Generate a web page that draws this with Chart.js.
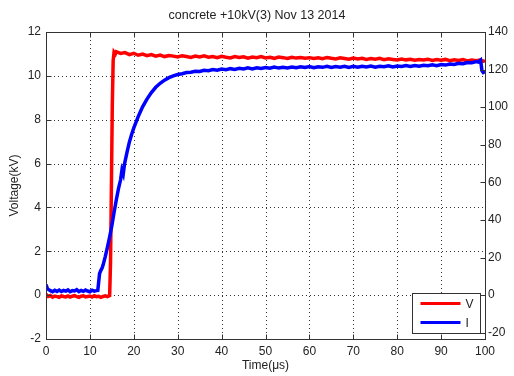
<!DOCTYPE html>
<html>
<head>
<meta charset="utf-8">
<script src="https://cdn.jsdelivr.net/npm/chart.js@4"></script>
<style>
  html, body { margin: 0; padding: 0; background: #fff; }
  canvas { display: block; }
</style>
</head>
<body>
<canvas id="chart1" width="514" height="376"></canvas>
<script>
// tick labels
var timeTicks = [0, 10, 20, 30, 40, 50, 60, 70, 80, 90, 100];
var voltTicks = [-2, 0, 2, 4, 6, 8, 10, 12];
var currTicks = [-20, 0, 20, 40, 60, 80, 100, 120, 140];

// V (kV) - red
var timeV = [0, 0.5, 1, 1.5, 2, 2.5, 3, 3.5, 4, 4.5, 5, 5.5, 6, 6.5, 7, 7.5, 8, 8.5, 9, 9.5,
    10, 10.5, 11, 11.5, 12, 12.5, 13, 13.5, 14, 14.5, 14.7, 14.9, 15.1, 15.3, 15.5, 15.8,
    16, 17, 18, 19, 20, 21, 22, 23, 24, 25, 26, 27, 28, 29, 30, 31, 32, 33, 34, 35, 36, 37, 38, 39,
    40, 41, 42, 43, 44, 45, 46, 47, 48, 49, 50, 51, 52, 53, 54, 55, 56, 57, 58, 59,
    60, 61, 62, 63, 64, 65, 66, 67, 68, 69, 70, 71, 72, 73, 74, 75, 76, 77, 78, 79,
    80, 81, 82, 83, 84, 85, 86, 87, 88, 89, 90, 91, 92, 93, 94, 95, 96, 97, 98, 99, 99.5, 100];
var volt = [0.04, -0.06, -0.02, -0.09, -0.04, -0.07, -0.1, -0.03, -0.06, -0.08, -0.04, -0.09, -0.05, -0.02, -0.07, -0.1, -0.05, -0.03, -0.08, -0.06,
    -0.04, -0.09, -0.03, -0.07, -0.05, -0.1, -0.06, -0.03, -0.07, -0.02, 1.5, 5.0, 8.6, 10.7, 11.08, 11.0,
    11.1, 11.02, 11.06, 10.97, 11.03, 10.94, 10.99, 10.92, 10.97, 10.9, 10.95, 10.88, 10.93, 10.9, 10.86, 10.92, 10.88, 10.84, 10.9, 10.86, 10.91, 10.85, 10.88, 10.83,
    10.89, 10.85, 10.82, 10.88, 10.84, 10.87, 10.81, 10.86, 10.83, 10.88, 10.82, 10.85, 10.8, 10.86, 10.83, 10.79, 10.85, 10.81, 10.84, 10.8,
    10.83, 10.79, 10.82, 10.78, 10.84, 10.8, 10.77, 10.82, 10.79, 10.76, 10.81, 10.77, 10.8, 10.75, 10.79, 10.76, 10.8, 10.74, 10.78, 10.75,
    10.72, 10.77, 10.73, 10.76, 10.71, 10.75, 10.72, 10.76, 10.7, 10.74, 10.71, 10.75, 10.69, 10.73, 10.7, 10.74, 10.68, 10.72, 10.69, 10.73, 10.66, 10.7];

// I - blue, right axis
var timeI = [0, 0.3, 0.6, 1, 1.5, 2, 2.5, 3, 3.5, 4, 4.5, 5, 5.5, 6, 6.5, 7, 7.5, 8, 8.5, 9, 9.5, 10, 10.5, 11, 11.5,
    11.8, 12, 12.2, 12.5, 12.8, 13, 13.5, 14, 14.5, 15, 15.5, 16, 16.5, 17, 17.3, 17.6, 17.9, 18.5, 19, 19.5,
    20, 21, 22, 23, 24, 25, 26, 27, 28, 29, 30, 31, 32, 33, 34, 35, 36, 37, 38, 39,
    40, 41, 42, 43, 44, 45, 46, 47, 48, 49, 50, 51, 52, 53, 54, 55, 56, 57, 58, 59,
    60, 61, 62, 63, 64, 65, 66, 67, 68, 69, 70, 71, 72, 73, 74, 75, 76, 77, 78, 79,
    80, 81, 82, 83, 84, 85, 86, 87, 88, 89, 90, 91, 92, 93, 94, 95, 96, 97, 98, 98.5, 99, 99.3, 99.6, 100];
var curr = [5.6, 3.6, 2.9, 2.4, 1.8, 2.6, 2.0, 2.7, 1.9, 2.5, 2.1, 2.8, 1.8, 2.4, 2.2, 2.9, 1.9, 2.5, 2.0, 2.7, 2.2, 1.8, 2.6, 2.1, 2.4,
    2.5, 7.0, 11.5, 13.2, 14.5, 16.0, 20.5, 25.5, 31.0, 37.0, 44.0, 50.5, 56.5, 61.5, 66.5, 64.5, 70.0, 76.5, 81.5, 85.5,
    89.0, 95.0, 100.2, 104.3, 107.8, 110.6, 112.7, 114.4, 115.7, 116.7, 117.4, 117.8, 118.4, 118.6, 119.1, 119.0, 119.6, 119.4, 120.0, 119.7,
    120.3, 119.9, 120.5, 120.1, 120.7, 120.3, 120.9, 120.4, 121.0, 120.6, 121.1, 120.7, 121.3, 120.8, 121.2, 120.9, 121.4, 121.0, 121.5, 121.1,
    121.6, 121.0, 121.5, 121.2, 121.7, 121.1, 121.6, 121.3, 121.8, 121.2, 121.7, 121.3, 121.8, 121.4, 121.9, 121.3, 121.8, 121.5, 122.0, 121.4,
    121.9, 121.6, 122.1, 121.7, 122.2, 121.8, 122.3, 122.0, 122.5, 122.1, 122.7, 122.4, 123.0, 122.7, 123.3, 123.1, 123.8, 123.6, 124.3, 124.0, 125.0, 119.5, 118.5, 119.0];

function toPoints(xs, ys) {
    var pts = [];
    for (var i = 0; i < xs.length; i++) {
        pts.push({ x: xs[i], y: ys[i] });
    }
    return pts;
}

function setTicks(list) {
    return function(scale) {
        scale.ticks = list.map(function(v) { return { value: v }; });
    };
}

var fontFamily = "'Liberation Sans', Arial, sans-serif";
var inkColor = '#222';

// grid, box, inward tick marks and the legend box
var framePlugin = {
    id: 'frame',
    beforeDatasetsDraw: function(chart) {
        var ctx = chart.ctx, a = chart.chartArea;
        var xs = chart.scales.x, yl = chart.scales.y;
        ctx.save();
        ctx.strokeStyle = '#333';
        ctx.lineWidth = 1;
        ctx.setLineDash([1, 3]);
        ctx.beginPath();
        timeTicks.forEach(function(t) {
            var px = Math.round(xs.getPixelForValue(t)) + 0.5;
            ctx.moveTo(px, a.top);
            ctx.lineTo(px, a.bottom);
        });
        voltTicks.forEach(function(v) {
            var py = Math.round(yl.getPixelForValue(v)) + 0.5;
            ctx.moveTo(a.left, py);
            ctx.lineTo(a.right, py);
        });
        ctx.stroke();
        ctx.restore();
    },
    afterDraw: function(chart) {
        var ctx = chart.ctx, a = chart.chartArea;
        var xs = chart.scales.x, yl = chart.scales.y, yr = chart.scales.y2;
        var L = Math.round(a.left) + 0.5, R = Math.round(a.right) + 0.5;
        var T = Math.round(a.top) + 0.5, B = Math.round(a.bottom) + 0.5;
        ctx.save();
        ctx.strokeStyle = '#333';
        ctx.lineWidth = 1;
        ctx.beginPath();
        timeTicks.forEach(function(t) {
            var px = Math.round(xs.getPixelForValue(t)) + 0.5;
            ctx.moveTo(px, B); ctx.lineTo(px, B - 5);
            ctx.moveTo(px, T); ctx.lineTo(px, T + 5);
        });
        voltTicks.forEach(function(v) {
            var py = Math.round(yl.getPixelForValue(v)) + 0.5;
            ctx.moveTo(L, py); ctx.lineTo(L + 5, py);
        });
        currTicks.forEach(function(v) {
            var py = Math.round(yr.getPixelForValue(v)) + 0.5;
            ctx.moveTo(R, py); ctx.lineTo(R - 5, py);
        });
        ctx.stroke();
        ctx.strokeRect(L, T, R - L, B - T);

        // legend
        var bw = 68, bh = 40;
        var bx = Math.round(a.right) - 5 - bw + 0.5;
        var by = Math.round(a.bottom) - 6 - bh + 0.5;
        ctx.fillStyle = '#fff';
        ctx.fillRect(bx, by, bw, bh);
        ctx.strokeRect(bx, by, bw, bh);
        ctx.font = '12px ' + fontFamily;
        ctx.textBaseline = 'middle';
        ctx.textAlign = 'left';
        chart.data.datasets.forEach(function(ds, i) {
            var ly = by + 10 + i * 19;
            ctx.strokeStyle = ds.borderColor;
            ctx.lineWidth = 3;
            ctx.beginPath();
            ctx.moveTo(bx + 8, ly);
            ctx.lineTo(bx + 48, ly);
            ctx.stroke();
            ctx.fillStyle = inkColor;
            ctx.fillText(ds.label, bx + 53, ly + 1);
        });
        ctx.restore();
    }
};

window.onload = function() {
    var ctx1 = document.getElementById('chart1').getContext('2d');
    var chart1 = new Chart(ctx1, {
        type: 'line',
        data: {
            datasets: [{
                label: 'V',
                data: toPoints(timeV, volt),
                borderColor: '#ff0000',
                borderWidth: 3.5,
                pointRadius: 0,
                tension: 0,
                yAxisID: 'y',
                order: 1
            }, {
                label: 'I',
                data: toPoints(timeI, curr),
                borderColor: '#0000ff',
                borderWidth: 3.5,
                pointRadius: 0,
                tension: 0,
                yAxisID: 'y2',
                order: 0
            }]
        },
        options: {
            responsive: false,
            animation: false,
            devicePixelRatio: 1,
            layout: { padding: 0 },
            plugins: {
                legend: { display: false },
                tooltip: { enabled: false },
                title: {
                    display: true,
                    text: 'concrete +10kV(3) Nov 13 2014',
                    color: inkColor,
                    font: { family: fontFamily, size: 12.5, weight: 'normal' },
                    padding: { top: 8, bottom: 9 }
                }
            },
            scales: {
                x: {
                    type: 'linear',
                    min: 0, max: 100,
                    afterBuildTicks: setTicks(timeTicks),
                    afterFit: function(s) { s.height = 37; },
                    grid: { display: false, drawTicks: false },
                    border: { display: false },
                    ticks: { color: inkColor, padding: 5, maxRotation: 0, font: { family: fontFamily, size: 12 } },
                    title: { display: true, text: 'Time(μs)', color: inkColor, padding: { top: 0, bottom: 3 }, font: { family: fontFamily, size: 12 } }
                },
                y: {
                    type: 'linear',
                    position: 'left',
                    min: -2, max: 12,
                    afterBuildTicks: setTicks(voltTicks),
                    afterFit: function(s) { s.width = 46; },
                    grid: { display: false, drawTicks: false },
                    border: { display: false },
                    ticks: { color: inkColor, padding: 5, font: { family: fontFamily, size: 12 } },
                    title: { display: true, text: 'Voltage(kV)', color: inkColor, padding: { top: 7, bottom: 0 }, font: { family: fontFamily, size: 12 } }
                },
                y2: {
                    type: 'linear',
                    position: 'right',
                    min: -140 / 6, max: 140,
                    afterBuildTicks: setTicks(currTicks),
                    afterFit: function(s) { s.width = 29; },
                    grid: { display: false, drawTicks: false },
                    border: { display: false },
                    ticks: { color: inkColor, padding: 3, font: { family: fontFamily, size: 12 } }
                }
            }
        },
        plugins: [framePlugin]
    });
};
</script>
</body>
</html>
